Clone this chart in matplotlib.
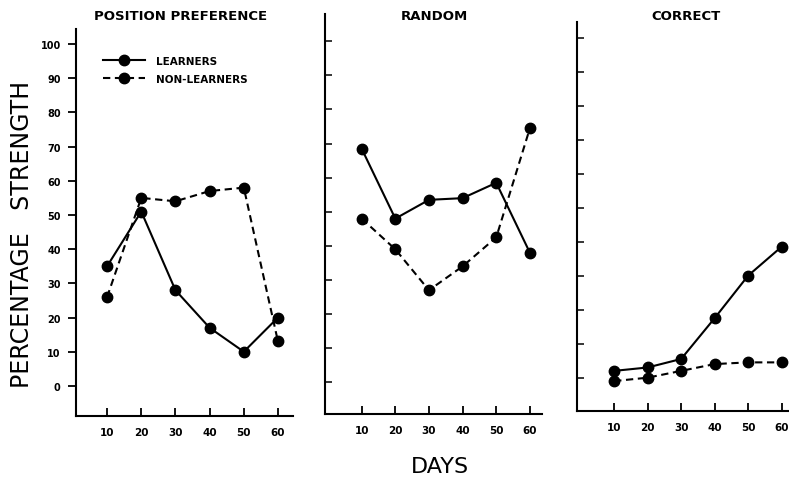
import matplotlib
matplotlib.use("Agg")
import matplotlib.pyplot as plt

# ── Datos ────────────────────────────────────────────────────────
days = [10, 20, 30, 40, 50, 60]
panel_titles = ["POSITION PREFERENCE", "RANDOM", "CORRECT"]
learners = [
    [35, 51, 28, 17, 10, 20],
    [68.5, 48, 53.5, 54, 58.5, 38],
    [2, 3, 5.5, 17.5, 30, 38.5],
]
non_learners = [
    [26, 55, 54, 57, 58, 13],
    [48, 39, 27, 34, 42.5, 74.5],
    [-1, 0, 2, 4, 4.5, 4.5],
]
y_ticks = [0, 10, 20, 30, 40, 50, 60, 70, 80, 90, 100]
legend_labels = ["LEARNERS", "NON-LEARNERS"]

W, H = 789, 481
BOLD = ["DejaVu Sans"]

# posiciones de cada panel en píxeles: (izq, der, arriba, abajo), límites x/y
PANELS = [
    ((76, 293, 30, 417), (0.9, 64.4), (-8.8, 104.4)),
    ((325, 542, 15, 415), (-0.9, 63.6), (-9.3, 108.0)),
    ((577, 800, 23, 412), (-1.1, 65.5), (-9.8, 104.6)),
]
TITLE_X = [181, 434, 686]


def px_axes(fig, l, r, t, b):
    return fig.add_axes([l / W, 1 - b / H, (r - l) / W, (b - t) / H])


fig = plt.figure(figsize=(W / 100, H / 100), dpi=100)
fig.patch.set_facecolor("white")

for i, ((l, r, t, b), xl, yl) in enumerate(PANELS):
    ax = px_axes(fig, l, r, t, b)
    ax.set_xlim(*xl)
    ax.set_ylim(*yl)
    for s in ("top", "right"):
        ax.spines[s].set_visible(False)
    for s in ("left", "bottom"):
        ax.spines[s].set_linewidth(1.5)
        ax.spines[s].set_color("black")

    ax.plot(days, learners[i], "-", color="black", lw=1.5,
            marker="o", ms=7.5, clip_on=False, label=legend_labels[0])
    ax.plot(days, non_learners[i], "--", color="black", lw=1.5,
            dashes=(3.5, 2.2), marker="o", ms=7.5, clip_on=False,
            label=legend_labels[1])

    ax.set_xticks(days)
    ax.set_xticklabels([str(d) for d in days], fontsize=7.5,
                       fontweight="bold", family=BOLD)
    ax.tick_params(axis="x", direction="in", length=6, width=1.3, pad=8)
    ax.set_yticks(y_ticks)
    if i == 0:
        ax.set_yticklabels([str(v) for v in y_ticks], fontsize=7,
                           fontweight="bold", family=BOLD)
        ax.tick_params(axis="y", direction="out", length=6, width=1.3, pad=5)
        ax.legend(loc="upper left", bbox_to_anchor=(0.08, 0.955), frameon=False,
                  handlelength=4.1, handletextpad=1.0, labelspacing=0.8,
                  prop={"size": 7.5, "weight": "bold", "family": BOLD})
    else:
        ax.set_yticklabels([])
        ax.tick_params(axis="y", direction="in", length=5, width=1.1)

    fig.text(TITLE_X[i] / W, 1 - 17 / H, panel_titles[i], ha="center",
             va="center", fontsize=9.5, fontweight="bold", family=BOLD)

fig.text(22 / W, 1 - 234 / H, "PERCENTAGE   STRENGTH", rotation=90,
         ha="center", va="center", fontsize=17, fontweight="medium",
         family=["Liberation Sans Narrow", "DejaVu Sans"])
fig.text(440 / W, 1 - 467 / H, "DAYS", ha="center", va="center",
         fontsize=16, fontweight="medium",
         family=["Liberation Sans Narrow", "DejaVu Sans"])

fig.savefig("out.png", dpi=100, facecolor="white")
